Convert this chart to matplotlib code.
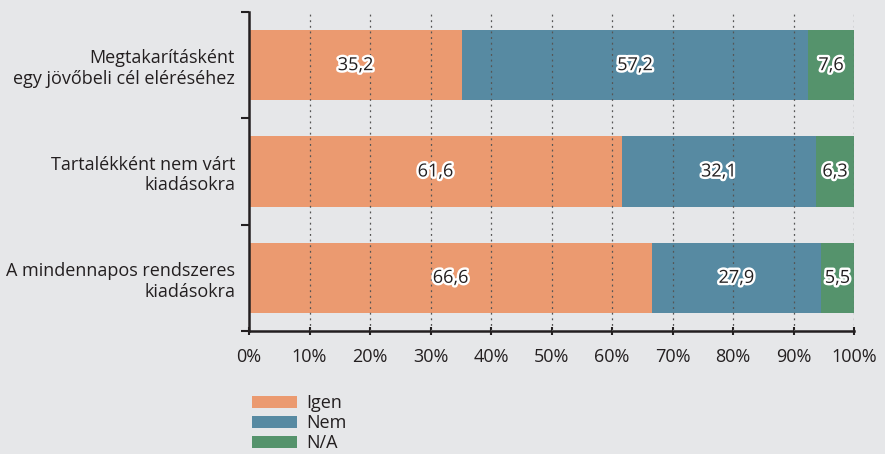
import matplotlib.pyplot as plt
import matplotlib.patheffects as pe
from matplotlib.patches import Patch

categories = ["Megtakarításként\negy jövőbeli cél eléréséhez",
              "Tartalékként nem várt\nkiadásokra",
              "A mindennapos rendszeres\nkiadásokra"]
igen = [35.2, 61.6, 66.6]
nem = [57.2, 32.1, 27.9]
na = [7.6, 6.3, 5.5]
series_names = ["Igen", "Nem", "N/A"]
colors = ["#eb9a70", "#578aa2", "#55936c"]
x_ticks = list(range(0, 101, 10))

plt.rcParams['font.family'] = ['Open Sans', 'DejaVu Sans']
bg = "#e6e7e9"
ink = "#231f20"
fs = 13

fig = plt.figure(figsize=(8.85, 4.54), dpi=100, facecolor=bg)
ax = fig.add_axes([249/885, 1 - 331/454, (854-249)/885, (331-12)/454])
ax.set_facecolor(bg)

ypos = list(range(len(categories)))
left = [0.0] * len(categories)
for vals, name, col in zip([igen, nem, na], series_names, colors):
    ax.barh(ypos, vals, left=left, height=0.66, color=col, label=name, zorder=1)
    for y, v, l in zip(ypos, vals, left):
        ax.text(l + v / 2, y, f"{v:.1f}".replace(".", ","), ha="center", va="center",
                fontsize=fs, color=ink, zorder=4,
                path_effects=[pe.withStroke(linewidth=3.5, foreground="white")])
    left = [a + b for a, b in zip(left, vals)]

ax.set_xlim(0, 100)
ax.set_ylim(len(categories) - 0.5, -0.5)
ax.set_xticks(x_ticks)
ax.set_xticklabels([f"{t}%" for t in x_ticks], fontsize=fs, color=ink)
ax.set_yticks(ypos)
ax.set_yticklabels(categories, fontsize=fs, color=ink, linespacing=1.2)
ax.set_yticks([-0.5, 0.5, 1.5, 2.5], minor=True)
ax.tick_params(axis="y", which="major", length=0, pad=10)
ax.tick_params(axis="y", which="minor", length=6, width=1.5, direction="out", color=ink)
ax.tick_params(axis="x", length=6, width=1.5, direction="inout", color=ink, pad=9)

for x in x_ticks[1:]:
    ax.axvline(x, color="#555555", linestyle=(0, (1.5, 3)), linewidth=0.9, zorder=3)

for s in ["top", "right"]:
    ax.spines[s].set_visible(False)
for s in ["left", "bottom"]:
    ax.spines[s].set_linewidth(1.8)
    ax.spines[s].set_color(ink)

handles = [Patch(facecolor=c, label=n) for c, n in zip(colors, series_names)]
fig.legend(handles=handles, loc="upper left", bbox_to_anchor=(243/885, 1 - 385/454),
           frameon=False, fontsize=fs, handlelength=2.5, handleheight=0.65,
           labelspacing=0.12, handletextpad=0.5, borderpad=0, labelcolor=ink)

fig.savefig("out.png", dpi=100, facecolor=bg)
